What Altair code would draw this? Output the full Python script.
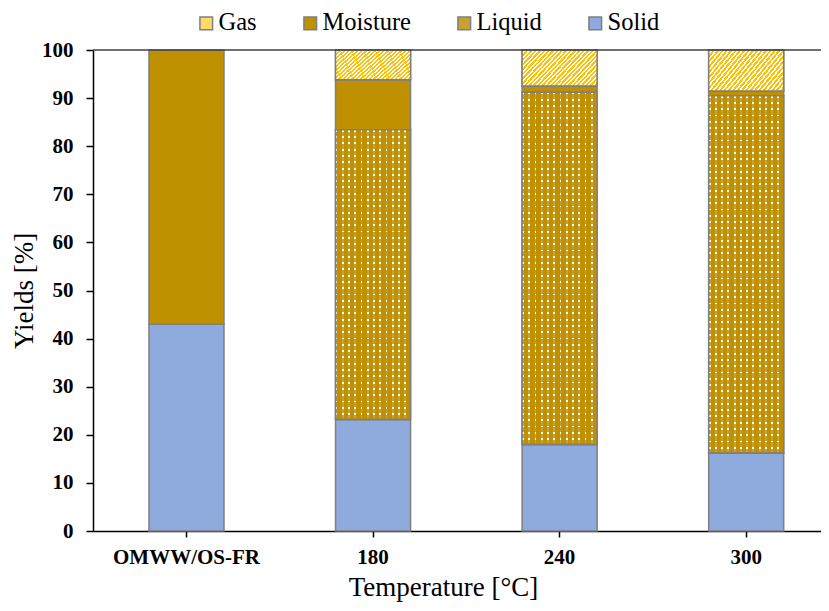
import altair as alt
import pandas as pd

categories = ["OMWW/OS-FR", "180", "240", "300"]
stack_order = ["Solid", "Liquid", "Moisture", "Gas"]
legend_order = ["Gas", "Moisture", "Liquid", "Solid"]
solid = [43.0, 23.2, 18.0, 16.2]
liquid = [0.0, 60.2, 73.2, 74.3]
moisture = [57.0, 10.4, 1.3, 1.0]
gas = [0.0, 6.2, 7.5, 8.5]

series = {"Solid": solid, "Liquid": liquid, "Moisture": moisture, "Gas": gas}
rows = []
for i, c in enumerate(categories):
    acc = 0.0
    for comp in stack_order:
        v = series[comp][i]
        if v > 0:
            rows.append({"cat": c, "comp": comp, "value": v, "y0": acc, "y1": acc + v})
        acc += v
df = pd.DataFrame(rows)

FONT = "'Liberation Serif', 'Times New Roman', Tinos, serif"
GOLD = "#BF9000"
YELLOW = "#FFC000"
BLUE = "#8FAADC"
EDGE = "#7F7F7F"
CLEAR = "rgba(255,255,255,0)"


def stripes(n, c1, c2, frac, x2, y2):
    stops = []
    for k in range(n):
        a = k / n
        b = (k + frac) / n
        e = (k + 1) / n
        stops += [
            {"offset": a, "color": c1},
            {"offset": b, "color": c1},
            {"offset": b, "color": c2},
            {"offset": e, "color": c2},
        ]
    return {"gradient": "linear", "x1": 0, "y1": 0, "x2": x2, "y2": y2, "stops": stops}


xscale = alt.Scale(domain=categories, paddingInner=0.598, paddingOuter=0.25, align=0.6)
yscale = alt.Scale(domain=[0, 100], nice=False)

x_enc = alt.X(
    "cat:N",
    sort=categories,
    scale=xscale,
    axis=alt.Axis(
        title="Temperature [°C]",
        labelAngle=0,
        labelFont=FONT,
        labelFontSize=21,
        labelFontWeight="bold",
        labelColor="black",
        labelPadding=9,
        tickSize=6,
        tickColor="black",
        tickWidth=1.5,
        domainColor="black",
        domainWidth=1.5,
        titleFont=FONT,
        titleFontSize=27,
        titleFontWeight="normal",
        titleColor="black",
        titlePadding=7,
        titleX=350,
        titleAlign="center",
    ),
)
y_enc = alt.Y(
    "y0:Q",
    scale=yscale,
    axis=alt.Axis(
        title="Yields [%]",
        values=list(range(0, 101, 10)),
        grid=False,
        labelFont=FONT,
        labelFontSize=21,
        labelFontWeight="bold",
        labelColor="black",
        labelPadding=13,
        tickSize=7,
        tickColor="black",
        tickWidth=1.5,
        domainColor="black",
        domainWidth=1.5,
        titleFont=FONT,
        titleFontSize=27,
        titleFontWeight="normal",
        titleColor="black",
        titlePadding=3,
    ),
)

base = alt.Chart(df).mark_bar(stroke=EDGE, strokeWidth=1.5).encode(
    x=x_enc,
    y=y_enc,
    y2="y1:Q",
    fill=alt.Fill(
        "comp:N",
        scale=alt.Scale(domain=legend_order, range=["#FFDA66", GOLD, "#C9A132", BLUE]),
        legend=alt.Legend(
            title=None,
            orient="none",
            direction="horizontal",
            legendX=101,
            legendY=-39,
            symbolType="square",
            symbolSize=160,
            symbolStrokeColor=EDGE,
            symbolStrokeWidth=1.5,
            symbolOpacity=1,
            labelFont=FONT,
            labelFontSize=24.5,
            labelColor="black",
            labelOffset=0,
            columnPadding=41,
        ),
    ),
)

layers = [base]

# Gas: diagonal yellow/white stripes
gas_layer = (
    alt.Chart(df)
    .transform_filter(alt.datum.comp == "Gas")
    .mark_bar(stroke=EDGE, strokeWidth=1.5, fill=stripes(25, YELLOW, "#FFFFFF", 0.55, 1.21, 0.545))
    .encode(x=alt.X("cat:N", sort=categories, scale=xscale), y=alt.Y("y0:Q", scale=yscale), y2="y1:Q")
)
layers.append(gas_layer)

# Liquid: white dots on gold
for i, c in enumerate(categories):
    if liquid[i] <= 0:
        continue
    nrows = max(1, round(liquid[i] * 4.81 / 6.3))
    sub = alt.Chart(df).transform_filter((alt.datum.comp == "Liquid") & (alt.datum.cat == c))
    rows_layer = sub.mark_bar(strokeOpacity=0, fill=stripes(nrows, "#FFFFFF", CLEAR, 0.3, 0, 1)).encode(
        x=alt.X("cat:N", sort=categories, scale=xscale), y=alt.Y("y0:Q", scale=yscale), y2="y1:Q"
    )
    cols_layer = sub.mark_bar(stroke=EDGE, strokeWidth=1.5, fill=stripes(12, CLEAR, GOLD, 0.3, 1, 0)).encode(
        x=alt.X("cat:N", sort=categories, scale=xscale), y=alt.Y("y0:Q", scale=yscale), y2="y1:Q"
    )
    layers += [rows_layer, cols_layer]

top = alt.Chart(pd.DataFrame({"v": [100]})).mark_rule(color="#404040", strokeWidth=1.5).encode(
    y=alt.Y("v:Q", scale=yscale)
)
layers.append(top)

chart = (
    alt.layer(*layers)
    .properties(
        width=728,
        height=481,
        autosize=alt.AutoSizeParams(type="none"),
        padding={"left": 85, "top": 42, "right": 0, "bottom": 72},
    )
    .configure_view(stroke=None)
)

chart.save("out.html", embed_options={"renderer": "svg", "actions": False})
